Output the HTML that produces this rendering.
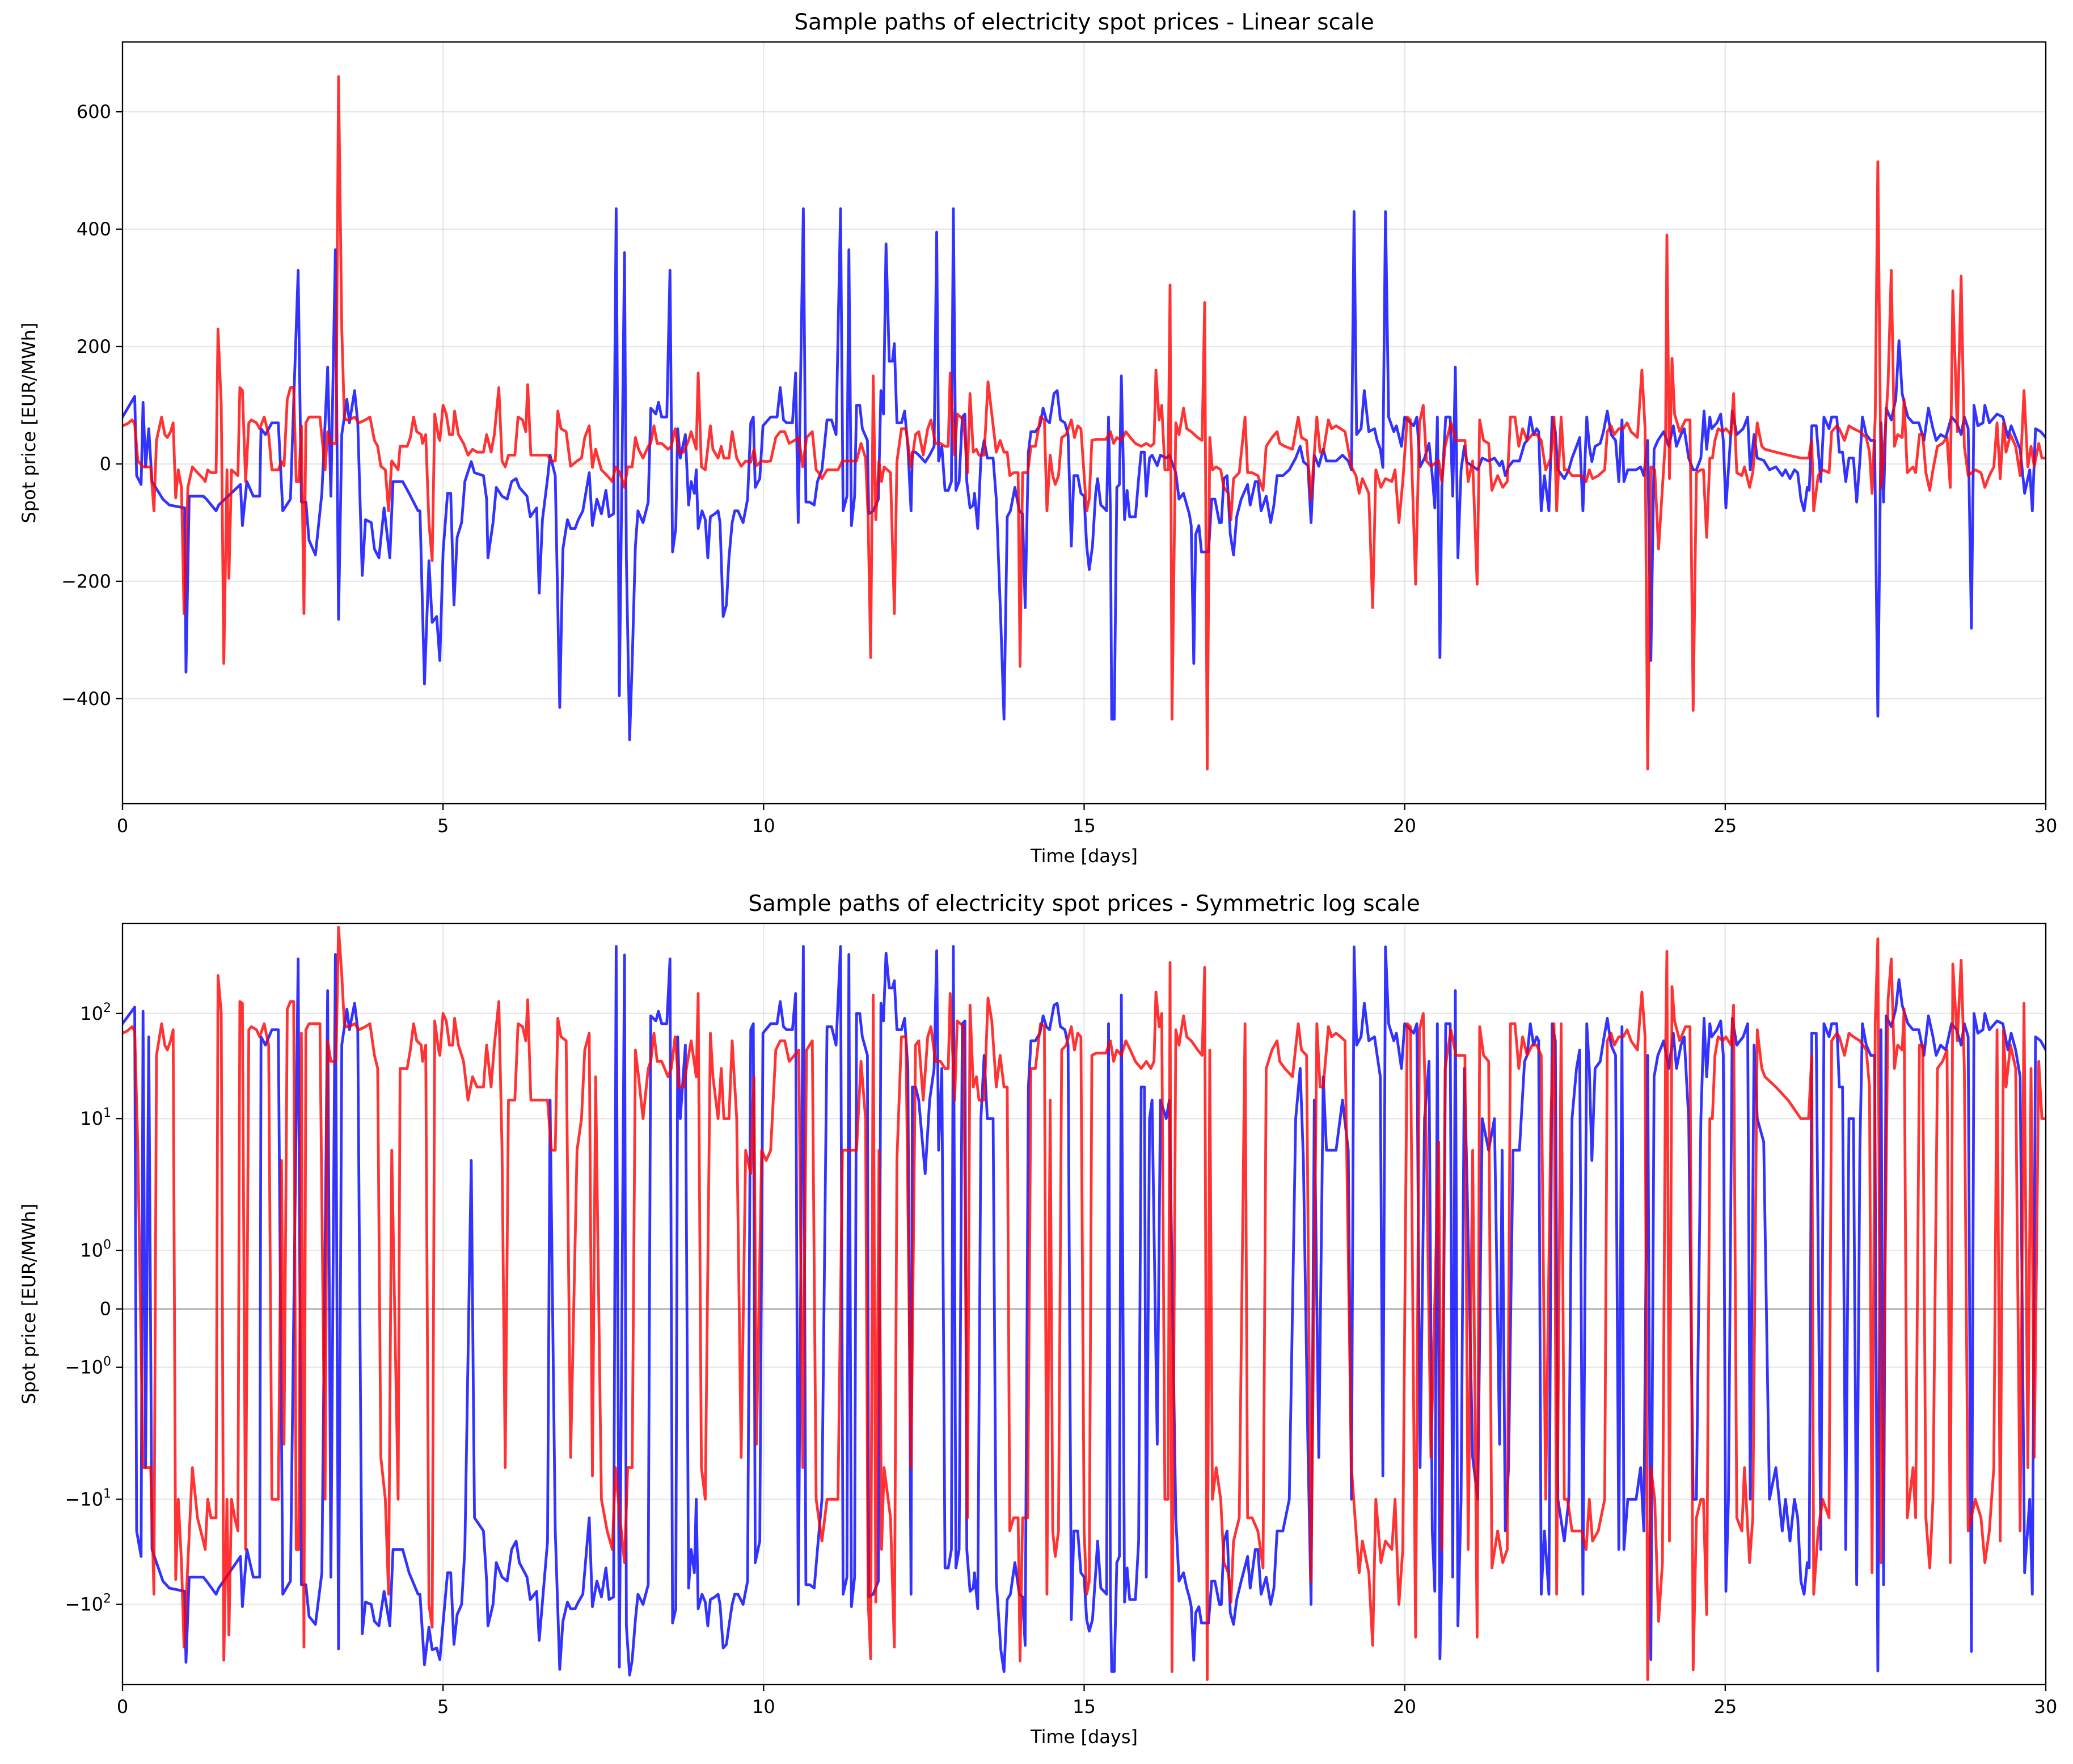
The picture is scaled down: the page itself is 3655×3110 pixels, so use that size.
<!DOCTYPE html>
<html><head><meta charset="utf-8"><style>
html,body{margin:0;padding:0;background:#fff}
svg{display:block}
text{font-family:"DejaVu Sans","Liberation Sans",sans-serif;fill:#000}
</style></head><body>
<svg id="fig" xmlns="http://www.w3.org/2000/svg" width="3655" height="3110" viewBox="0 0 3655 3110">
<rect width="3655" height="3110" fill="#fff"/>
<g id="top"></g>
<g id="bot"></g>
</svg>
<script>
// ---- data (days, EUR/MWh) ----
const tBlue=[0,.19,.22,.29,.32,.36,.41,.46,.63,.73,.97,.99,1.04,1.26,1.31,1.46,1.50,1.84,1.87,1.94,2.04,2.14,2.16,2.23,2.33,2.43,2.50,2.62,2.74,2.79,2.86,2.91,3.01,3.11,3.20,3.25,3.32,3.37,3.42,3.50,3.54,3.62,3.67,3.74,3.79,3.88,3.93,4.00,4.08,4.17,4.22,4.37,4.47,4.61,4.64,4.71,4.78,4.83,4.90,4.95,5.00,5.07,5.12,5.17,5.22,5.29,5.34,5.44,5.49,5.63,5.68,5.70,5.78,5.83,5.92,6.00,6.07,6.14,6.19,6.31,6.36,6.46,6.50,6.55,6.63,6.67,6.75,6.82,6.87,6.94,6.99,7.06,7.11,7.18,7.28,7.33,7.40,
7.47,7.54,7.59,7.66,7.70,7.75,7.83,7.86,7.91,7.95,8.00,8.04,8.12,8.20,8.24,8.32,8.36,8.41,8.49,8.54,8.58,8.63,8.66,8.70,8.78,8.83,8.87,8.92,8.95,8.98,9.04,9.09,9.13,9.17,9.24,9.29,9.32,9.37,9.42,9.46,9.51,9.55,9.60,9.68,9.75,9.80,9.84,9.87,9.94,9.99,10.11,10.21,10.26,10.31,10.36,10.45,10.50,10.54,10.62,10.66,10.72,10.79,10.84,10.91,10.99,11.06,11.13,11.20,11.24,11.30,11.33,11.37,11.42,11.45,11.50,11.54,11.62,11.64,11.71,11.79,11.83,11.87,11.91,11.96,12.01,12.04,12.08,12.15,12.20,12.25,12.30,12.32,12.37,12.42,12.52,12.59,12.66,12.70,12.73,12.78,12.83,12.88,12.93,12.96,13.00,13.05,13.10,13.14,13.17,13.22,13.27,13.29,13.34,13.39,13.44,13.49,13.58,13.63,13.70,13.75,13.80,13.85,13.92,13.99,14.04,14.08,14.13,14.17,14.24,14.31,14.36,14.41,14.46,14.53,14.58,14.63,14.70,14.75,14.80,14.84,14.87,
14.90,14.95,15.00,15.04,15.08,15.13,15.18,15.21,15.26,15.31,15.35,15.38,15.41,15.43,15.47,15.51,15.55,15.58,15.63,15.67,15.71,15.80,15.85,15.89,15.94,15.97,16.02,16.06,16.14,16.19,16.28,16.33,16.43,16.48,16.55,16.60,16.64,16.67,16.71,16.74,16.79,16.83,16.89,16.94,16.99,17.04,17.11,17.14,17.18,17.23,17.28,17.33,17.38,17.45,17.55,17.59,17.67,17.71,17.76,17.84,17.91,17.96,18.01,18.10,18.20,18.30,18.37,18.42,18.49,18.54,18.59,18.66,18.73,18.78,18.93,19.03,19.12,19.17,19.21,19.25,19.32,19.37,19.44,19.53,19.57,19.62,19.66,19.70,19.75,19.83,19.87,19.95,20.00,20.09,20.14,20.19,20.24,20.31,20.38,20.43,20.47,20.51,20.55,20.58,20.64,20.71,20.75,20.79,20.83,20.88,20.93,20.97,21.06,21.14,21.21,21.31,21.40,21.48,21.52,21.57,21.62,21.69,21.79,21.87,21.91,21.96,22.01,22.06,22.09,22.13,22.18,22.25,22.30,22.35,
22.39,22.49,22.56,22.61,22.68,22.73,22.78,22.84,22.88,22.92,22.97,23.05,23.10,23.16,23.22,23.29,23.34,23.39,23.42,23.48,23.61,23.68,23.73,23.79,23.84,23.89,23.95,24.04,24.12,24.19,24.24,24.31,24.36,24.43,24.50,24.55,24.62,24.67,24.71,24.76,24.79,24.87,24.93,24.97,25.01,25.05,25.11,25.18,25.28,25.35,25.39,25.45,25.50,25.60,25.69,25.79,25.89,25.94,26.01,26.08,26.13,26.18,26.23,26.28,26.31,26.35,26.42,26.49,26.54,26.62,26.66,26.74,26.78,26.83,26.88,26.93,27.00,27.05,27.10,27.14,27.20,27.27,27.33,27.38,27.43,27.47,27.51,27.59,27.66,27.71,27.76,27.80,27.85,27.93,28.02,28.10,28.17,28.24,28.29,28.36,28.44,28.53,28.61,28.68,28.73,28.79,28.84,28.88,28.94,29.02,29.05,29.12,29.24,29.33,29.41,29.46,29.53,29.60,29.67,29.75,29.79,29.84,29.92,30.00];
const vBlue=[80,115,-20,-35,105,-5,60,-30,-60,-70,-75,-355,-55,-55,-60,-80,-70,-35,-105,-30,-55,-55,60,50,70,70,-80,-60,330,-65,-65,-130,-155,-50,165,-55,365,-265,50,110,70,125,70,-190,-95,-100,-145,-160,-75,-160,-30,-30,-50,-80,-80,-375,-165,-270,-260,-335,-150,-50,-50,-240,-125,-100,-30,4,-15,-20,-60,-160,-100,-40,-55,-60,-30,-25,-40,-55,-90,-75,-220,-95,-25,15,-20,-415,-145,-95,-110,-110,-95,-80,-15,-105,-60,
-85,-45,-90,-85,435,-395,360,-160,-470,-340,-140,-80,-100,-65,95,85,105,80,80,330,-150,-110,60,10,50,-70,-30,-50,-10,-110,-80,-95,-160,-90,-85,-80,-100,-260,-240,-160,-100,-80,-80,-100,-60,70,80,-40,-25,65,80,80,130,75,70,70,155,-100,435,-65,-65,-70,-30,-10,75,75,50,435,-80,-55,365,-105,-55,100,100,60,40,-85,-80,-60,125,85,375,175,175,205,70,70,90,30,-80,20,20,15,3,15,30,395,5,30,-45,-45,-30,435,-45,-30,80,85,-30,-75,-70,-50,-110,10,40,10,10,-60,-270,-435,-90,-80,-40,-80,-85,-245,20,55,55,65,95,75,70,120,125,75,70,50,-140,-20,-20,
-20,-50,-55,-140,-180,-140,-50,-25,-70,-75,-80,80,-80,-435,-435,-40,-35,150,-95,-45,-90,-90,-25,20,20,-55,10,15,-3,15,10,15,-15,-60,-50,-70,-85,-105,-340,-120,-105,-150,-150,-150,-60,-60,-100,-100,-25,-20,-120,-155,-90,-60,-35,-70,-30,-30,-80,-55,-100,-70,-20,-20,-10,10,30,4,-3,-100,15,-4,25,5,5,15,5,-10,430,50,60,125,55,60,40,25,-6,430,80,55,65,30,80,70,65,80,-5,10,35,-20,-75,80,-330,-40,80,80,-55,165,-160,-10,30,3,-4,-10,10,5,10,-3,5,-20,-5,5,5,35,40,80,50,60,55,-80,-20,-80,80,55,
-10,-25,-10,10,30,45,-80,80,30,4,30,35,55,90,50,40,-30,75,-30,-10,-10,-5,-20,40,-335,25,40,55,30,65,30,50,60,10,-10,-10,10,90,25,80,60,70,85,40,-75,-10,90,50,60,80,-10,50,10,6,-10,-5,-20,-10,-25,-10,-15,-60,-80,-40,-45,65,65,-30,80,60,80,80,20,20,-30,10,10,-65,5,80,50,40,40,-430,70,-65,95,75,110,210,120,100,80,70,70,40,95,60,40,50,45,80,70,50,80,60,-280,100,65,70,100,70,85,80,45,65,45,25,-50,-10,-80,60,55,45];
const tRed=[0,.07,.15,.19,.24,.32,.44,.49,.53,.61,.66,.70,.75,.79,.83,.87,.92,.96,1.02,1.09,1.17,1.26,1.29,1.33,1.38,1.46,1.49,1.54,1.58,1.63,1.66,1.70,1.75,1.80,1.83,1.87,1.92,1.97,2.01,2.09,2.14,2.21,2.28,2.33,2.43,2.48,2.52,2.57,2.62,2.67,2.71,2.75,2.79,2.83,2.86,2.91,3.01,3.08,3.16,3.20,3.25,3.33,3.37,3.42,3.46,3.49,3.54,3.62,3.69,3.79,3.86,3.93,3.98,4.03,4.10,4.15,4.20,4.30,4.33,4.44,4.49,4.54,4.59,4.66,4.68,4.73,4.78,4.83,4.87,4.93,4.95,5.00,5.05,5.10,5.15,5.18,5.24,5.32,5.39,5.46,5.53,5.63,5.68,5.75,5.80,5.87,5.92,5.97,6.02,6.12,6.17,6.24,6.29,6.32,6.37,6.50,6.63,6.69,6.75,6.79,6.84,6.92,6.99,7.09,7.16,7.21,7.28,7.33,7.38,
7.47,7.56,7.64,7.69,7.76,7.83,7.88,7.95,8.00,8.05,8.12,8.20,8.24,8.29,8.34,8.41,8.51,8.56,8.62,8.68,8.75,8.83,8.87,8.95,8.98,9.03,9.09,9.17,9.21,9.29,9.34,9.38,9.46,9.51,9.58,9.65,9.72,9.80,9.85,9.89,9.97,10.04,10.11,10.19,10.26,10.33,10.40,10.48,10.55,10.61,10.67,10.76,10.82,10.86,10.91,10.99,11.06,11.16,11.23,11.30,11.37,11.45,11.52,11.59,11.63,11.67,11.71,11.75,11.80,11.84,11.88,11.98,12.04,12.08,12.15,12.22,12.30,12.37,12.42,12.49,12.56,12.61,12.68,12.76,12.83,12.88,12.91,12.98,13.02,13.12,13.18,13.22,13.27,13.32,13.36,13.44,13.50,13.56,13.63,13.69,13.75,13.80,13.84,13.90,13.97,14.00,14.04,14.12,14.17,14.24,14.32,14.38,14.42,14.47,14.51,14.55,14.60,14.65,14.72,14.80,14.85,
14.90,14.95,15.00,15.04,15.08,15.12,15.19,15.34,15.41,15.46,15.51,15.58,15.65,15.72,15.80,15.89,15.97,16.04,16.09,16.12,16.17,16.21,16.26,16.31,16.34,16.37,16.43,16.48,16.55,16.60,16.67,16.72,16.77,16.84,16.88,16.92,16.96,17.00,17.06,17.13,17.18,17.25,17.29,17.33,17.42,17.51,17.55,17.62,17.71,17.79,17.84,17.93,18.01,18.05,18.13,18.25,18.34,18.39,18.47,18.54,18.63,18.68,18.73,18.81,18.86,18.93,19.00,19.07,19.17,19.24,19.29,19.34,19.44,19.50,19.55,19.63,19.70,19.80,19.85,19.91,19.97,20.04,20.09,20.17,20.23,20.29,20.34,20.41,20.53,20.58,20.63,20.72,20.80,20.94,20.99,21.06,21.13,21.17,21.23,21.31,21.36,21.45,21.53,21.60,21.65,21.72,21.78,21.84,21.91,21.99,22.06,22.13,22.20,22.28,22.33,22.37,
22.44,22.49,22.54,22.61,22.68,22.76,22.83,22.88,22.93,23.02,23.12,23.16,23.22,23.27,23.34,23.41,23.47,23.53,23.63,23.70,23.75,23.79,23.84,23.90,23.96,24.02,24.07,24.09,24.13,24.17,24.21,24.29,24.38,24.45,24.50,24.55,24.62,24.66,24.71,24.76,24.80,24.84,24.89,24.96,25.01,25.09,25.13,25.18,25.26,25.30,25.38,25.43,25.50,25.57,25.62,25.79,25.98,26.18,26.30,26.35,26.38,26.45,26.52,26.62,26.66,26.74,26.78,26.86,26.93,27.00,27.10,27.20,27.25,27.29,27.34,27.38,27.43,27.46,27.54,27.59,27.64,27.69,27.76,27.79,27.84,27.93,27.97,28.03,28.08,28.13,28.19,28.24,28.31,28.39,28.46,28.51,28.55,28.62,28.68,28.73,28.79,28.90,28.99,29.05,29.12,29.19,29.24,29.29,29.34,29.38,29.45,29.53,29.60,29.66,29.72,29.77,29.82,29.89,29.94,30.00];
const vRed=[65,68,75,68,5,-5,-5,-80,40,80,50,45,55,70,-58,-10,-40,-255,-40,-5,-15,-25,-30,-10,-15,-15,230,100,-340,-10,-195,-10,-15,-20,130,125,-30,70,75,70,60,80,50,-10,-10,4,-3,110,130,130,-30,-30,65,-255,70,80,80,80,-10,55,35,35,660,230,80,75,75,80,70,75,80,40,30,-4,-10,-80,5,-10,30,30,45,80,55,50,35,50,-100,-165,85,45,40,100,85,50,50,90,50,35,15,25,20,20,50,20,50,130,5,-5,15,15,80,75,55,135,15,15,15,5,5,90,60,55,-4,5,10,45,65,-6,25,
-10,-20,-30,-5,-15,-40,-5,-5,45,25,10,30,35,65,35,35,25,30,60,20,20,40,55,25,155,-5,-10,65,25,10,30,10,10,55,10,-4,5,3,25,-3,5,4,5,45,55,55,35,40,45,-5,45,55,-10,-15,-25,-10,-10,-10,5,5,5,5,35,10,-90,-330,150,-95,5,-30,-5,-15,-255,4,60,60,-5,50,55,15,60,75,35,35,30,30,155,15,85,75,-15,120,20,25,15,15,140,85,20,40,20,20,-20,-15,-15,-345,-15,-15,30,30,80,75,-80,15,-20,-35,-20,45,50,75,45,
65,60,-20,-80,-60,40,42,42,55,35,45,40,55,45,35,30,35,30,35,160,75,100,-10,-10,305,-435,70,50,95,60,55,50,45,40,275,-520,45,-10,-5,-10,-40,-50,-95,-25,-15,80,-15,-15,-20,-45,30,45,55,35,30,25,80,45,40,-60,80,20,20,75,60,65,60,55,-5,-20,-50,-25,-50,-245,-10,-40,-25,-30,-10,-100,-30,80,75,-205,70,100,5,-4,6,-30,30,70,40,40,-30,5,-205,75,40,35,-45,-20,-40,-30,80,80,30,60,40,50,50,40,-10,10,80,-80,
80,-10,-10,-20,-20,-20,-30,-10,-25,-20,-10,55,65,50,60,60,70,55,45,160,60,-520,-5,-10,-145,-40,45,390,-25,180,85,55,75,75,-420,-15,-10,-10,-125,10,10,40,60,55,60,50,120,-15,-20,-5,-40,-15,70,30,25,20,15,10,10,40,-80,-20,-10,-15,55,65,60,40,65,60,55,45,20,-50,80,515,-40,-5,135,330,30,50,45,110,-15,-5,-15,50,50,-15,-45,-10,30,35,45,-40,295,55,320,30,-20,-10,-15,-40,-20,-5,70,-25,70,20,50,30,-20,125,-5,30,-4,35,10,10];
const xTicks=[0,5,10,15,20,25,30];
const yTicksLin=[-400,-200,0,200,400,600];
const yTicksLog=[-100,-10,-1,0,1,10,100];
const yTickLabelsLog=[["−10","2"],["−10","1"],["−10","0"],["0",""],["10","0"],["10","1"],["10","2"]];

// ---- layout ----
const NS="http://www.w3.org/2000/svg";
const L=216,R=3607;
const P1={top:74,bot:1417}, P2={top:1628,bot:2970};
const LT=1/(1-1/10); // linscale adj (linthresh=2, linscale=1)
function symT(v){const a=Math.abs(v);return a<=2?v/2*LT:Math.sign(v)*(LT+Math.log10(a/2));}
function xs(t){return L+(t-0)/(30-0)*(R-L);}
function mk(tag,attrs,parent){const e=document.createElementNS(NS,tag);for(const k in attrs)e.setAttribute(k,attrs[k]);parent.appendChild(e);return e;}
const allV=vBlue.concat(vRed);
const vmax=Math.max(...allV), vmin=Math.min(...allV);
const linLo=vmin-0.05*(vmax-vmin), linHi=vmax+0.05*(vmax-vmin);
const logLo=symT(linLo), logHi=symT(linHi);
function yLin(v){return P1.top+(linHi-v)/(linHi-linLo)*(P1.bot-P1.top);}
function yLog(v){return P2.top+(logHi-symT(v))/(logHi-logLo)*(P2.bot-P2.top);}

function panel(g,P,yf,yTicks,yLab,title,isLog){
  xTicks.forEach(t=>{const l=mk('line',{x1:xs(t),x2:xs(t),y1:P.top,y2:P.bot,stroke:'#b0b0b0','stroke-opacity':0.3,'stroke-width':2.3},g);
    
    });
  yTicks.forEach(v=>{const l=mk('line',{x1:L,x2:R,y1:yf(v),y2:yf(v),stroke:'#b0b0b0','stroke-opacity':0.3,'stroke-width':2.3},g);
    
    });
  if(isLog){const z=mk('line',{x1:L,x2:R,y1:yf(0),y2:yf(0),stroke:'#000','stroke-opacity':0.3,'stroke-width':2.3},g);
    
    }
  const cid='clip'+P.top;
  const cp=mk('clipPath',{id:cid},g);mk('rect',{x:L,y:P.top,width:R-L,height:P.bot-P.top},cp);
  const series=[[tBlue,vBlue,'#0000ff','blue-path'],[tRed,vRed,'#ff0000','red-path']];
  series.forEach(s=>{const n=Math.min(s[0].length,s[1].length);let d='';
    for(let i=0;i<n;i++){d+=(i?'L':'M')+xs(s[0][i]).toFixed(1)+','+yf(s[1][i]).toFixed(1);}
    const p=mk('path',{d:d,fill:'none',stroke:s[2],'stroke-opacity':0.8,'stroke-width':4.8,'stroke-linejoin':'round','stroke-linecap':'square','clip-path':'url(#'+cid+')'},g);
    
    });
  const fr=mk('rect',{x:L,y:P.top,width:R-L,height:P.bot-P.top,fill:'none',stroke:'#000','stroke-width':2.3},g);
  
  
  xTicks.forEach(t=>{const tk=mk('line',{x1:xs(t),x2:xs(t),y1:P.bot,y2:P.bot+11,stroke:'#000','stroke-width':2.3},g);
    
    
    const tx=mk('text',{x:xs(t),y:P.bot+50,'text-anchor':'middle','font-size':32},g);tx.textContent=String(t);
    
    });
  yTicks.forEach((v,i)=>{const y=yf(v);const tk=mk('line',{x1:L-11,x2:L,y1:y,y2:y,stroke:'#000','stroke-width':2.3},g);
    
    
    const tx=mk('text',{x:L-20,y:y+11,'text-anchor':'end','font-size':32},g);
    
    
    if(isLog){const lab=yTickLabelsLog[i];tx.textContent=lab[0];
      if(lab[1]){const s=mk('tspan',{'font-size':22,dy:-14},tx);s.textContent=lab[1];}
    } else {tx.textContent=v<0?'−'+Math.abs(v):String(v);}
  });
  const xl=mk('text',{x:(L+R)/2,y:P.bot+103,'text-anchor':'middle','font-size':32},g);xl.textContent='Time [days]';
  
  
  const cy=(P.top+P.bot)/2;
  const yl=mk('text',{x:0,y:0,'text-anchor':'middle','font-size':32,transform:'translate(62,'+cy+') rotate(-90)'},g);yl.textContent=yLab;
  
  
  const ti=mk('text',{x:(L+R)/2,y:P.top-22,'text-anchor':'middle','font-size':39},g);ti.textContent=title;
  
  
}
panel(document.getElementById('top'),P1,yLin,yTicksLin,'Spot price [EUR/MWh]','Sample paths of electricity spot prices - Linear scale',false);
panel(document.getElementById('bot'),P2,yLog,yTicksLog,'Spot price [EUR/MWh]','Sample paths of electricity spot prices - Symmetric log scale',true);
</script>
</body></html>
